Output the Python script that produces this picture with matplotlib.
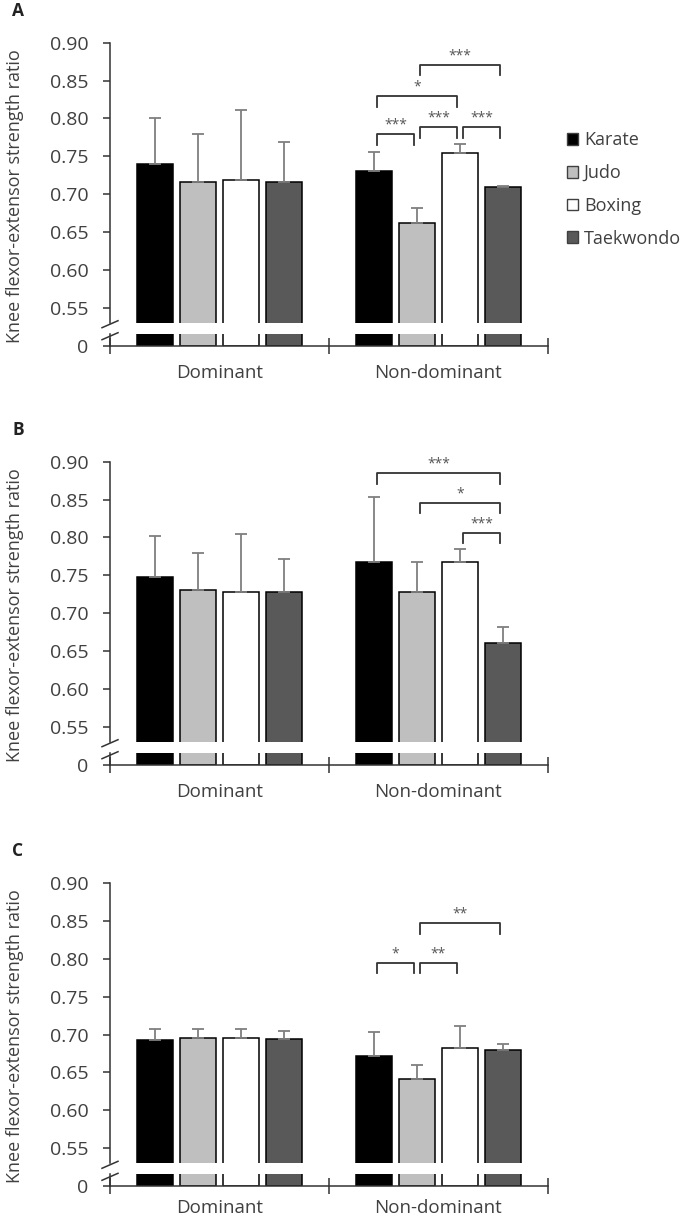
import numpy as np
import matplotlib.pyplot as plt
from matplotlib.patches import Patch
from matplotlib.lines import Line2D

plt.rcParams['font.family'] = ['Open Sans', 'DejaVu Sans']

# Datos
sports = ['Karate', 'Judo', 'Boxing', 'Taekwondo']
sides = ['Dominant', 'Non-dominant']
panels = ['A', 'B', 'C']
colors = ['#000000', '#bfbfbf', '#ffffff', '#595959']

# medias [lado][deporte] y desviacion (solo hacia arriba)
means_a = [[0.740, 0.716, 0.719, 0.716], [0.731, 0.662, 0.754, 0.709]]
sd_a = [[0.060, 0.064, 0.092, 0.053], [0.025, 0.020, 0.012, 0.001]]
means_b = [[0.747, 0.730, 0.728, 0.728], [0.768, 0.728, 0.768, 0.660]]
sd_b = [[0.055, 0.049, 0.076, 0.043], [0.085, 0.040, 0.017, 0.022]]
means_c = [[0.693, 0.696, 0.696, 0.694], [0.672, 0.641, 0.682, 0.680]]
sd_c = [[0.014, 0.012, 0.012, 0.011], [0.031, 0.019, 0.029, 0.008]]

# comparaciones en Non-dominant: (deporte i, deporte j, altura, texto)
sig_a = [(1, 3, 0.871, '***'), (0, 2, 0.829, '*'), (0, 1, 0.779, '***'),
         (1, 2, 0.788, '***'), (2, 3, 0.788, '***')]
sig_b = [(0, 3, 0.885, '***'), (1, 3, 0.846, '*'), (2, 3, 0.806, '***')]
sig_c = [(1, 3, 0.847, '**'), (0, 1, 0.795, '*'), (1, 2, 0.795, '**')]

all_means = [means_a, means_b, means_c]
all_sd = [sd_a, sd_b, sd_c]
all_sig = [sig_a, sig_b, sig_c]

ylabel = 'Knee flexor-extensor strength ratio'
txt = '#404040'
line_c = '#333333'

W, H = 685, 1222
fig = plt.figure(figsize=(W / 100, H / 100), dpi=100)


def fy(y):
    return 1 - y / H


L = 110 / W
AW = 438 / W
tops = [42.7, 461.7, 883.3]
xpads = [13, 13, 9]
step = 0.196
bw = 0.164

for k in range(3):
    top = tops[k]
    ax = fig.add_axes([L, fy(top + 280), AW, 280 / H])
    axb = fig.add_axes([L, fy(top + 303), AW, 12 / H])
    means = all_means[k]
    sd = all_sd[k]
    for s in range(2):
        for i in range(4):
            x = s + 0.5 + (i - 1.5) * step
            ax.bar(x, means[s][i], width=bw, color=colors[i], edgecolor='black',
                   linewidth=1.1, yerr=[[0], [sd[s][i]]],
                   error_kw=dict(ecolor='#7f7f7f', elinewidth=1.3, capsize=4,
                                 capthick=1.3), zorder=2)
            axb.bar(x, means[s][i], width=bw, color=colors[i], edgecolor='black',
                    linewidth=1.1, zorder=2)

    # corchetes de significacion
    for i, j, h, lab in all_sig[k]:
        x1 = 1.5 + (i - 1.5) * step + 0.012
        x2 = 1.5 + (j - 1.5) * step - 0.012
        ax.plot([x1, x1, x2, x2], [h - 0.014, h, h, h - 0.014], color=line_c,
                lw=1.3, clip_on=False, zorder=3)
        ax.text((x1 + x2) / 2, h + 0.002, lab, ha='center', va='bottom',
                fontsize=10, color='#555555')

    ax.set_xlim(0, 2)
    ax.set_ylim(0.53, 0.90)
    ax.set_yticks(np.arange(0.55, 0.901, 0.05))
    ax.set_yticklabels(['%.2f' % v for v in np.arange(0.55, 0.901, 0.05)])
    ax.set_xticks([])
    for sp in ['top', 'right', 'bottom']:
        ax.spines[sp].set_visible(False)
    ax.spines['left'].set_color(line_c)
    ax.spines['left'].set_linewidth(1.1)
    ax.tick_params(axis='y', length=5, width=1.1, color=line_c, pad=10.5,
                   labelsize=14, labelcolor=txt)

    axb.set_xlim(0, 2)
    axb.set_ylim(0, 0.016)
    axb.set_yticks([0])
    axb.set_yticklabels(['0'])
    axb.set_xticks([0, 1, 2])
    axb.set_xticklabels([])
    axb.set_xticks([0.5, 1.5], sides, minor=True)
    for sp in ['top', 'right']:
        axb.spines[sp].set_visible(False)
    for sp in ['left', 'bottom']:
        axb.spines[sp].set_color(line_c)
        axb.spines[sp].set_linewidth(1.1)
    axb.tick_params(axis='y', length=5, width=1.1, color=line_c, pad=10.5,
                    labelsize=14, labelcolor=txt)
    axb.tick_params(axis='x', which='major', direction='inout', length=12,
                    width=1.1, color=line_c)
    axb.tick_params(axis='x', which='minor', length=0, pad=xpads[k],
                    labelsize=13.5, labelcolor=txt)

    # marcas de corte del eje
    for y1, y2 in [(top + 285, top + 278), (top + 297, top + 290)]:
        fig.add_artist(Line2D([102 / W, 118 / W], [fy(y1), fy(y2)],
                              transform=fig.transFigure, color=line_c, lw=1.1))

    fig.text(15 / W, fy(top + 153), ylabel, rotation=90, ha='center',
             va='center', fontsize=13, color=txt)
    fig.text(18 / W, fy(top - 32), panels[k], ha='center', va='center',
             fontsize=12.5, fontweight='bold', color='#222222')

handles = [Patch(facecolor=c, edgecolor='#404040', linewidth=1.0) for c in colors]
fig.legend(handles, sports, loc='upper left', bbox_to_anchor=(560 / W, fy(124)),
           frameon=False, fontsize=13, handlelength=0.62, handleheight=0.62,
           handletextpad=0.3, labelspacing=0.82, labelcolor=txt, borderaxespad=0)

fig.savefig('out.png', dpi=100)
